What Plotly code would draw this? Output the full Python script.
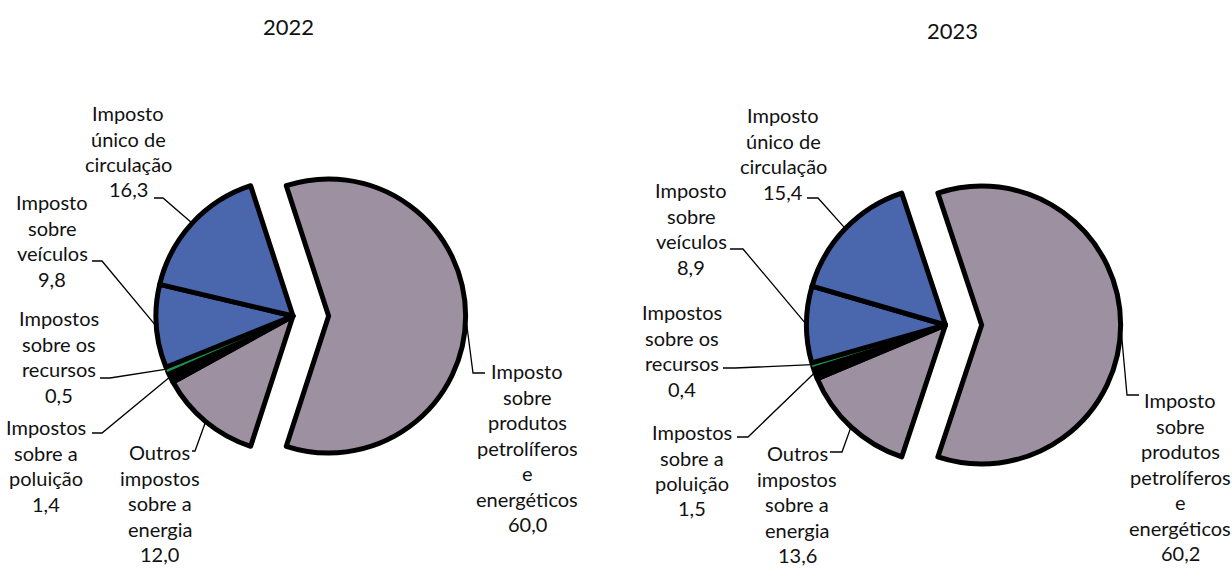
import math
import plotly.graph_objects as go

W, H = 1232, 568

# ---- data -------------------------------------------------------------
years = ["2022", "2023"]
categories = [
    "Imposto sobre produtos petrolíferos e energéticos",
    "Outros impostos sobre a energia",
    "Impostos sobre a poluição",
    "Impostos sobre os recursos",
    "Imposto sobre veículos",
    "Imposto único de circulação",
]
label_lines = [
    ["Imposto", "sobre", "produtos", "petrolíferos", "e", "energéticos"],
    ["Outros", "impostos", "sobre a", "energia"],
    ["Impostos", "sobre a", "poluição"],
    ["Impostos", "sobre os", "recursos"],
    ["Imposto", "sobre", "veículos"],
    ["Imposto", "único de", "circulação"],
]
values_2022 = [60.0, 12.0, 1.4, 0.5, 9.8, 16.3]
values_2023 = [60.2, 13.6, 1.5, 0.4, 8.9, 15.4]
values_by_year = [values_2022, values_2023]

# ---- styling / layout --------------------------------------------------
slice_colors = ["#9D90A1", "#9D90A1", "#000000", "#1E9552", "#4A66AC", "#4A66AC"]
edge_colors = ["#000000", "#000000", "#000000", "#1E9552", "#000000", "#000000"]
edge_widths = [5, 5, 5, 1.2, 5, 5]
pulls = [0.26, 0, 0, 0, 0, 0]

FONT = "Lato, 'Open Sans', sans-serif"
TEXT_COLOR = "#111111"
LABEL_SIZE = 20
LINE_STEP = 25.5

# pie geometry in pixels: centre x, centre y, radius
pie_geom = [
    dict(cx=293, cy=316, r=137),
    dict(cx=945.5, cy=325, r=139),
]
title_pos = [(288, 27), (952, 30)]

# label placement in pixels: text centre x, first-line centre y,
# leader start point and knee x (the leader then runs to the slice edge)
label_place = [
    [
        dict(x=527, y=371, ax=485, ay=373, kx=473),
        dict(x=160, y=452, ax=192, ay=451, kx=195),
        dict(x=46, y=427, ax=92, ay=433, kx=102),
        dict(x=59, y=318, ax=100, ay=378, kx=110),
        dict(x=52, y=202, ax=92, ay=261, kx=102),
        dict(x=128, y=113, ax=154, ay=198, kx=163),
    ],
    [
        dict(x=1180, y=400, ax=1139, ay=395, kx=1127),
        dict(x=797, y=453, ax=830, ay=452, kx=842),
        dict(x=692, y=432, ax=737, ay=437, kx=748),
        dict(x=682, y=312, ax=723, ay=368, kx=735),
        dict(x=691, y=190, ax=730, ay=249, kx=743),
        dict(x=783, y=115, ax=807, ay=198, kx=818),
    ],
]


def px(x):
    return x / W


def py(y):
    return 1 - y / H


def fmt(v):
    return f"{v:.1f}".replace(".", ",")


fig = go.Figure()
shapes = []
annotations = []

for k, year in enumerate(years):
    vals = values_by_year[k]
    g = pie_geom[k]
    total = sum(vals)
    # keep the dominant slice centred on the 3 o'clock direction
    rotation = 90 - 180 * vals[0] / total
    half = g["r"] * (1 + max(pulls))

    fig.add_trace(go.Pie(
        labels=categories,
        values=vals,
        sort=False,
        direction="clockwise",
        rotation=rotation,
        pull=pulls,
        textinfo="none",
        hoverinfo="label+value",
        showlegend=False,
        marker=dict(colors=slice_colors,
                    line=dict(color=edge_colors, width=edge_widths)),
        domain=dict(x=[px(g["cx"] - half), px(g["cx"] + half)],
                    y=[py(g["cy"] + half), py(g["cy"] - half)]),
    ))

    annotations.append(dict(
        text=year, x=px(title_pos[k][0]), y=py(title_pos[k][1]),
        xref="paper", yref="paper", xanchor="center", yanchor="middle",
        showarrow=False, font=dict(family=FONT, size=22, color=TEXT_COLOR),
    ))

    cum = 0.0
    for i, v in enumerate(vals):
        mid = math.radians(rotation + 360 * (cum + v / 2) / total)
        cum += v
        reach = g["r"] * (1 + pulls[i])
        ex = g["cx"] + reach * math.sin(mid)
        ey = g["cy"] - reach * math.cos(mid)

        p = label_place[k][i]
        lines = label_lines[i] + [fmt(v)]
        for j, line in enumerate(lines):
            annotations.append(dict(
                text=line, x=px(p["x"]), y=py(p["y"] + j * LINE_STEP),
                xref="paper", yref="paper", xanchor="center", yanchor="middle",
                showarrow=False,
                font=dict(family=FONT, size=LABEL_SIZE, color=TEXT_COLOR),
            ))

        path = (f"M {px(p['ax'])} {py(p['ay'])} "
                f"L {px(p['kx'])} {py(p['ay'])} "
                f"L {px(ex)} {py(ey)}")
        shapes.append(dict(type="path", path=path, xref="paper", yref="paper",
                           line=dict(color="#000000", width=1.3)))

fig.update_layout(
    width=W, height=H,
    margin=dict(l=0, r=0, t=0, b=0),
    paper_bgcolor="#FFFFFF",
    plot_bgcolor="#FFFFFF",
    shapes=shapes,
    annotations=annotations,
)

fig.write_html("out.html")
